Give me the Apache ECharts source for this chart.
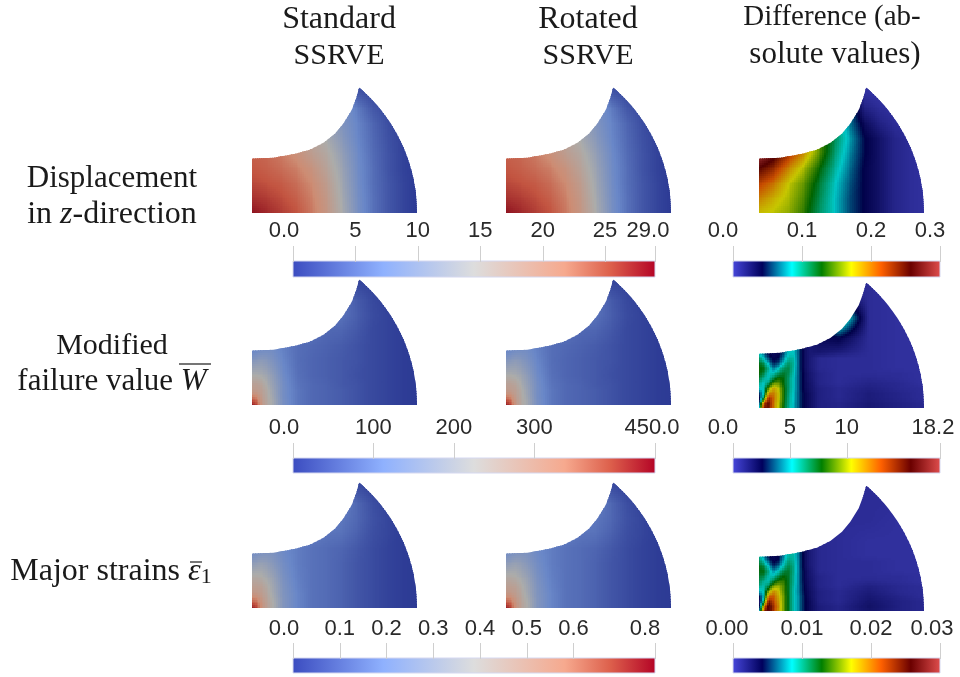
<!DOCTYPE html>
<html><head><meta charset="utf-8">
<style>html,body{margin:0;padding:0;background:#fff}#c{width:960px;height:677px}</style>
<script src="https://cdn.jsdelivr.net/npm/echarts@6/dist/echarts.min.js"></script>
</head><body><div id="c"></div>
<script>
// Column and row headings
const columnTitles = [['Standard','SSRVE'], ['Rotated','SSRVE'], ['Difference (ab-','solute values)']];

// Colour-bar scales
const dispMax = 29, wMax = 450, strainMax = 0.7745;
const dispDiffMax = 0.3, wDiffMax = 18.2, strainDiffMax = 0.03;
const dispTicks = [0, 5, 10, 15, 20, 25, 29];
const dispLabels = ['0.0', '5', '10', '15', '20', '25', '29.0'];
const wTicks = [0, 100, 200, 300, 450];
const wLabels = ['0.0', '100', '200', '300', '450.0'];
const strainTicks = [0, 0.1, 0.2, 0.3, 0.4, 0.5, 0.6, 0.7745];
const strainLabels = ['0.0', '0.1', '0.2', '0.3', '0.4', '0.5', '0.6', '0.8'];
const dispDiffTicks = [0, 0.1, 0.2, 0.3];
const dispDiffLabels = ['0.0', '0.1', '0.2', '0.3'];
const wDiffTicks = [0, 5, 10, 18.2];
const wDiffLabels = ['0.0', '5', '10', '18.2'];
const strainDiffTicks = [0, 0.01, 0.02, 0.03];
const strainDiffLabels = ['0.00', '0.01', '0.02', '0.03'];

// Colour maps: [position, r, g, b]
const coolWarm = [[0,59,76,192],[.25,143,177,254],[.5,221,221,221],[.75,246,169,142],[.875,221,96,76],[1,180,4,38]];
const coolWarmLit = [[0,44,58,148],[.25,105,135,200],[.5,172,172,170],[.75,205,140,115],[.875,195,85,65],[1,140,15,30]];
const rainbow = [[0,71,71,219],[.143,0,0,92],[.286,0,255,255],[.429,0,127,0],[.571,255,255,0],[.714,255,97,0],[.857,107,0,0],[1,224,77,77]];

// Specimen outline (top edge, then the arc of radius arcRadius round the lower-left corner)
const outlineTopX = [0, 21.3, 41.3, 58, 71.3, 83, 91.3, 99.7, 104, 107];
const outlineTopY = [54.3, 55.3, 58.7, 63.3, 70, 79.3, 89.3, 102.7, 114.3, 124.7];
const arcRadius = 165;

const coarseX = [0,15,30,45,60,75,90,105,120,135,150,165];
const coarseY = [0,15,30,45,60,75,90,105,120,135];
const standardDisp = [
[100,96,92,88,80,68,50,32,19,10,4,0],
[94,92,89,85,78,66,48,31,19,10,4,0],
[90,88,86,82,75,63,46,30,18,10,4,0],
[87,85,82,78,70,58,44,29,18,9,3,0],
[85,83,79,72,62,54,41,28,17,9,3,0],
[84,82,76,68,58,48,37,26,16,8,3,0],
[84,82,76,64,54,44,34,25,15,7,2,0],
[84,82,76,64,54,44,34,22,10,5,2,0],
[84,82,76,64,54,44,30,10,5,3,1,0],
[84,82,76,64,54,44,30,3,3,1,0,0]];
const rotatedDisp = standardDisp;

const midX = [0,5,10,15,20,30,45,60,75,90,105,120,135,150,165];
const midY = [0,5,10,15,20,30,45,60,75,90,105,120,135];
const standardW = [
[100,92,68,56,48,32,20,15,13,11,8,5,3,1,0],
[90,82,65,55,48,32,20,15,13,11,8,5,3,1,0],
[76,72,62,54,46,31,20,15,13,11,8,5,3,1,0],
[64,63,60,53,45,31,20,15,13,11,8,5,3,1,0],
[60,60,57,50,43,31,19,15,13,10,8,5,3,1,0],
[50,50,48,45,40,29,18,14,12,10,7,5,3,1,0],
[34,36,38,36,33,26,17,14,12,10,8,5,3,1,0],
[20,22,24,26,27,23,17,15,13,11,8,5,3,1,0],
[20,20,20,20,20,20,20,18,15,14,10,5,3,1,0],
[20,20,20,20,20,20,20,20,20,18,12,6,3,1,0],
[20,20,20,20,20,20,20,20,20,20,11,5,2,1,0],
[20,20,20,20,20,20,20,20,10,7,5,3,1,0,0],
[20,20,20,20,20,20,20,20,3,3,2,1,1,0,0]];
const rotatedW = standardW;
const standardStrain = [
[100,92,72,60,52,36,25,18,16,13,9,6,3,1,0],
[90,84,70,60,52,36,25,18,16,13,9,6,3,1,0],
[78,75,66,58,50,36,25,18,16,13,9,6,3,1,0],
[68,66,62,56,48,35,25,18,16,13,9,6,3,1,0],
[62,62,60,54,47,35,24,18,16,13,9,6,3,1,0],
[54,54,52,48,44,33,23,18,16,13,9,6,3,1,0],
[38,40,42,40,37,30,22,18,16,13,9,6,3,1,0],
[24,26,28,30,31,27,22,18,16,14,10,6,3,1,0],
[24,24,24,24,24,24,24,22,19,18,13,7,4,1,0],
[24,24,24,24,24,24,24,24,24,20,15,8,4,1,0],
[24,24,24,24,24,24,24,24,24,24,15,7,3,1,0],
[24,24,24,24,24,24,24,24,14,10,7,3,2,0,0],
[24,24,24,24,24,24,24,24,4,4,3,2,1,0,0]];
const rotatedStrain = standardStrain;

const diffDisp = [
[58,56,53,46,36,29,20,14,10,5,3,2],
[66,60,55,48,38,29,20,14,10,5,3,2],
[74,67,57,50,40,30,21,14,10,5,3,2],
[86,78,65,55,44,33,23,14,10,5,3,2],
[100,90,76,64,50,36,25,15,10,5,3,2],
[100,90,76,64,50,38,27,15,10,5,3,2],
[100,90,76,64,50,38,24,12,6,3,2,2],
[100,90,76,64,50,38,24,6,3,2,2,2],
[100,90,76,64,50,38,24,2,1,1,1,1],
[100,90,76,64,50,38,24,2,1,1,1,1]];

const fineX = [0,5,10,15,20,25,30,35,40,45,50,60,80,110,140,165];
const fineY = [0,5,10,15,20,25,30,35,40,45,50,55,70,90,110,125];
const diffW = [
[20,82,82,66,55,42,32,27,20,14,11,6,5,8,6,4],
[12,72,85,66,56,43,33,27,20,14,11,6,5,8,6,4],
[8,40,78,68,58,44,33,28,20,14,11,6,4,7,5,3],
[16,30,64,66,58,44,34,28,20,14,11,6,4,7,5,3],
[28,30,50,62,56,44,35,29,20,13,10,6,4,6,4,3],
[34,28,36,50,50,42,35,29,20,13,10,5,3,5,4,2],
[40,32,29,38,44,42,35,29,20,13,9,5,3,4,3,2],
[44,38,29,30,36,40,37,30,20,13,9,5,3,3,3,2],
[44,42,32,22,29,36,38,31,20,12,8,4,3,3,2,2],
[42,36,26,16,20,29,36,32,20,12,8,4,3,3,2,2],
[36,28,18,13,15,24,32,31,20,12,8,4,3,3,2,2],
[30,22,14,12,13,20,29,29,20,12,8,8,6,3,2,2],
[30,22,14,12,13,20,29,29,20,12,8,12,14,3,2,2],
[30,22,14,12,13,20,29,29,20,12,8,10,40,3,2,2],
[30,22,14,12,13,20,29,29,20,12,8,10,10,3,2,2],
[30,22,14,12,13,20,29,29,20,12,8,4,3,3,2,2]];
const diffStrain = [
[18,76,90,74,62,50,40,30,24,16,12,7,5,9,6,4],
[6,60,90,76,64,50,40,30,24,16,12,7,5,10,6,4],
[3,36,82,72,62,50,40,30,24,16,12,6,4,9,6,4],
[14,28,68,70,60,50,40,30,24,16,11,6,4,8,5,3],
[26,30,52,64,58,48,40,30,23,15,11,6,4,7,4,3],
[34,30,38,52,54,48,40,31,23,15,10,5,3,6,4,3],
[38,32,30,40,46,46,40,32,23,14,10,5,3,4,3,2],
[40,38,30,30,38,43,40,32,23,14,9,5,3,3,3,2],
[42,42,33,24,30,38,40,33,23,14,9,4,3,3,2,2],
[42,38,28,17,23,31,38,33,23,13,8,4,3,3,2,2],
[38,30,20,13,16,27,35,32,23,13,8,4,3,3,2,2],
[34,24,15,12,14,24,32,31,22,13,8,4,3,2,2,2],
[34,24,15,12,14,24,32,31,22,13,8,4,3,2,2,2],
[34,24,15,12,14,24,32,31,22,13,8,4,3,3,2,2],
[34,24,15,12,14,24,32,31,22,13,8,4,3,3,3,3],
[34,24,15,12,14,24,32,31,22,13,8,4,3,3,3,3]];

// ---- layout ----
const PANEL_W = 165, PANEL_H = 125, LIT = 0.78;
const panels = [
 {l:252,b:213,f:standardDisp,xs:coarseX,ys:coarseY,p:coolWarmLit},
 {l:506,b:213,f:rotatedDisp,xs:coarseX,ys:coarseY,p:coolWarmLit},
 {l:759,b:213,f:diffDisp,xs:coarseX,ys:coarseY,p:rainbow},
 {l:252,b:405,f:standardW,xs:midX,ys:midY,p:coolWarmLit},
 {l:506,b:405,f:rotatedW,xs:midX,ys:midY,p:coolWarmLit},
 {l:759,b:408,f:diffW,xs:fineX,ys:fineY,p:rainbow},
 {l:252,b:608,f:standardStrain,xs:midX,ys:midY,p:coolWarmLit},
 {l:506,b:608,f:rotatedStrain,xs:midX,ys:midY,p:coolWarmLit},
 {l:759,b:611,f:diffStrain,xs:fineX,ys:fineY,p:rainbow}];
const bars = [
 {l:293,w:362,t:261,h:16,max:dispMax,ticks:dispTicks,labels:dispLabels,p:coolWarm,m:19,a:18,z:14},
 {l:733,w:207,t:261,h:16,max:dispDiffMax,ticks:dispDiffTicks,labels:dispDiffLabels,p:rainbow,m:19,a:20,z:20},
 {l:293,w:362,t:458,h:15,max:wMax,ticks:wTicks,labels:wLabels,p:coolWarm,m:19,a:18,z:6},
 {l:733,w:207,t:458,h:15,max:wDiffMax,ticks:wDiffTicks,labels:wDiffLabels,p:rainbow,m:19,a:20,z:14},
 {l:293,w:362,t:658,h:15,max:strainMax,ticks:strainTicks,labels:strainLabels,p:coolWarm,m:18,a:18,z:20},
 {l:733,w:207,t:658,h:15,max:strainDiffMax,ticks:strainDiffTicks,labels:strainDiffLabels,p:rainbow,m:18,a:12,z:16}];

const outline = outlineTopX.map((x,i)=>[x,outlineTopY[i]]);
const tipAngle = Math.atan2(outlineTopY[9], outlineTopX[9]);
for (let k=0;k<=40;k++){ const a=tipAngle*(1-k/40); outline.push([arcRadius*Math.cos(a),arcRadius*Math.sin(a)]); }
outline.push([0,0]);
function inside(x,y){ let c=false; for(let i=0,j=outline.length-1;i<outline.length;j=i++){
  const a=outline[i],b=outline[j];
  if((a[1]>y)!==(b[1]>y) && x<(b[0]-a[0])*(y-a[1])/(b[1]-a[1])+a[0]) c=!c; } return c; }
function touches(x0,x1,y0,y1){ for(let m=0;m<=6;m++)for(let n=0;n<=6;n++){
  if(inside(x0+(x1-x0)*m/6+.01,y0+(y1-y0)*n/6+.01)) return true; } return false; }
function mapColor(p,t,lit){
  t=Math.max(0,Math.min(1,t)); let i=0; while(i<p.length-2&&t>p[i+1][0]) i++;
  const a=p[i],b=p[i+1],u=(t-a[0])/(b[0]-a[0]);
  return 'rgb('+[1,2,3].map(k=>Math.round((a[k]+(b[k]-a[k])*u)*lit)).join(',')+')';
}
const cache=new Map();
function fieldColor(p,v){ const q=Math.round(v*4); const key=(p===rainbow?'r':'c')+q;
  if(!cache.has(key)) cache.set(key,mapColor(p,q/400,p===rainbow?LIT:1)); return cache.get(key); }

const grid=[],xAxis=[],yAxis=[],series=[];
panels.forEach(pn=>{
  const idx=grid.length;
  grid.push({left:pn.l,top:pn.b-PANEL_H,width:PANEL_W,height:PANEL_H});
  xAxis.push({gridIndex:idx,type:'value',min:0,max:PANEL_W,show:false});
  yAxis.push({gridIndex:idx,type:'value',min:0,max:PANEL_H,show:false});
  const cells=[];
  for(let j=0;j<pn.ys.length-1;j++) for(let i=0;i<pn.xs.length-1;i++){
    cells.push([pn.xs[i],pn.xs[i+1],pn.ys[j],pn.ys[j+1],pn.f[j][i],pn.f[j][i+1],pn.f[j+1][i],pn.f[j+1][i+1]]);
  }
  series.push({type:'custom',xAxisIndex:idx,yAxisIndex:idx,silent:true,animation:false,clip:false,
    encode:{x:[0,1],y:[2,3]},data:cells,
    renderItem(params,api){
      const x0=api.value(0),x1=api.value(1),y0=api.value(2),y1=api.value(3);
      if(!touches(x0,x1,y0,y1)) return {type:'group',children:[]};
      const v00=api.value(4),v10=api.value(5),v01=api.value(6),v11=api.value(7);
      const a=api.coord([x0,y0]),b=api.coord([x1,y1]);
      const w=b[0]-a[0],h=a[1]-b[1],nx=Math.max(1,Math.ceil(w/2)),ny=Math.max(1,Math.ceil(h/2));
      const kids=[];
      for(let m=0;m<nx;m++)for(let n=0;n<ny;n++){
        const u=(m+.5)/nx,s=(n+.5)/ny;
        const v=(v00*(1-u)+v10*u)*(1-s)+(v01*(1-u)+v11*u)*s;
        const L=Math.floor(a[0]+w*m/nx),R=Math.ceil(a[0]+w*(m+1)/nx);
        const B=Math.ceil(a[1]-h*n/ny),T=Math.floor(a[1]-h*(n+1)/ny);
        kids.push({type:'rect',shape:{x:L,y:T,width:R-L,height:B-T},style:{fill:fieldColor(pn.p,v)}});
      }
      return {type:'group',children:kids,clipPath:{type:'polygon',shape:{points:outline.map(q=>api.coord(q))}}};
    }});
});
const LABEL_FONT='"Liberation Sans",Arial,sans-serif';
const TICK_LEN=15;
bars.forEach(br=>{
  const idx=grid.length;
  grid.push({left:br.l,top:br.t,width:br.w,height:br.h});
  const rs={fontSize:22,fontFamily:LABEL_FONT,color:'#2a2a2a'};
  xAxis.push({gridIndex:idx,type:'value',position:'top',min:0,max:br.max,
    axisLine:{show:false},splitLine:{show:false},axisTick:{show:false},
    axisLabel:{show:true,customValues:br.ticks,margin:br.m,fontSize:22,fontFamily:LABEL_FONT,color:'#2a2a2a',
      rich:{a:{...rs,padding:[0,br.a,0,0]},z:{...rs,padding:[0,br.z,0,0]}},
      formatter:v=>{const i=br.ticks.indexOf(v),t=br.labels[i];
        return i===0?'{a|'+t+'}':i===br.ticks.length-1?'{z|'+t+'}':t;}}});
  yAxis.push({gridIndex:idx,type:'value',min:0,max:1,show:false});
  series.push({type:'custom',xAxisIndex:idx,yAxisIndex:idx,silent:true,animation:false,clip:false,
    encode:{x:[0,1]},data:[[0,br.max]],
    renderItem(params,api){
      const a=api.coord([api.value(0),0]),b=api.coord([api.value(1),1]);
      return {type:'rect',shape:{x:a[0],y:b[1],width:b[0]-a[0],height:a[1]-b[1]},
        style:{stroke:'#d5d8f0',lineWidth:1,fill:new echarts.graphic.LinearGradient(0,0,1,0,
          br.p.map(s=>({offset:s[0],color:mapColor(br.p,s[0],1)})))}};
    }});
  series.push({type:'custom',xAxisIndex:idx,yAxisIndex:idx,silent:true,animation:false,clip:false,
    encode:{x:0},data:br.ticks.map(v=>[v]),
    renderItem(params,api){
      const a=api.coord([api.value(0),1]),X=Math.round(a[0])+.5;
      return {type:'line',shape:{x1:X,y1:a[1]-TICK_LEN,x2:X,y2:a[1]+1},style:{stroke:'#cfcfcf',lineWidth:1}};
    }});
});

const SERIF='"Liberation Serif","Times New Roman",serif';
const txt=(x,y,text,size)=>{ size=size||30; const f=size+'px '+SERIF; return {type:'text',silent:true,style:{x,y,text,align:'center',verticalAlign:'middle',
  font:f,fill:'#1a1a1a',
  rich:{n:{font:f,fill:'#1a1a1a'},i:{font:'italic '+f,fill:'#1a1a1a'},
    s:{font:Math.round(size*.7)+'px '+SERIF,fill:'#1a1a1a',padding:[10,0,0,0]}}}}; };
const bar=(x1,x2,y)=>({type:'line',silent:true,shape:{x1,y1:y,x2,y2:y},style:{stroke:'#1a1a1a',lineWidth:1.2}});
const graphic=[
  txt(339,20,columnTitles[0][0],32),txt(339,56,columnTitles[0][1]),
  txt(588,20,columnTitles[1][0],32),txt(588,56,columnTitles[1][1]),
  txt(832,17,columnTitles[2][0],29),txt(835,55,columnTitles[2][1],31),
  txt(112,179,'Displacement',31),txt(112,215,'{n|in }{i|z}{n|-direction}',32),
  txt(112,346,'Modified'),txt(112,382,'{n|failure value }{i|W}',31),
  txt(111,572,'{n|Major strains }{i|ε}{s|1}',32),
  bar(179,211,364),bar(190,202,562)];

const chart=echarts.init(document.getElementById('c'),null,{renderer:'canvas'});
chart.setOption({animation:false,backgroundColor:'#fff',grid,xAxis,yAxis,series,graphic});
</script></body></html>
